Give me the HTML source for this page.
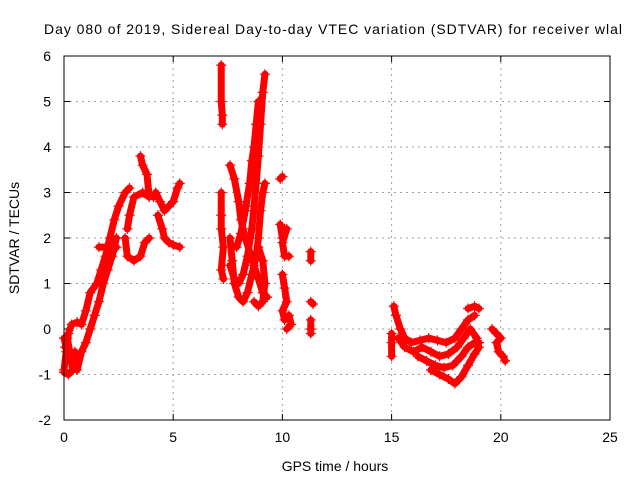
<!DOCTYPE html>
<html><head><meta charset="utf-8"><style>
body{margin:0;background:#fff;width:640px;height:480px;overflow:hidden}
svg text{font-family:"Liberation Sans",sans-serif;font-size:14px;fill:#000}
</style></head><body>
<svg id="chart" width="640" height="480" xmlns="http://www.w3.org/2000/svg">
<text x="44" y="34" font-size="14" textLength="578" lengthAdjust="spacing">Day 080 of 2019, Sidereal Day-to-day VTEC variation (SDTVAR) for receiver wlal</text>
<text x="335" y="471" text-anchor="middle">GPS time / hours</text>
<text transform="translate(19,238) rotate(-90)" text-anchor="middle">SDTVAR / TECUs</text>
<g id="grid"></g><g id="ticks"></g><g id="marks"></g>
<rect x="64" y="56" width="546" height="364" fill="none" stroke="#000" stroke-width="1"/>
</svg>
<script>
const xTicks=[0,5,10,15,20,25];
const yTicks=[-2,-1,0,1,2,3,4,5,6];
const trackRiseUpper=[[0,-0.9],[0.1,-0.5],[0.2,-0.1],[0.35,0.1],[0.6,0.15],[0.8,0.1],[1.0,0.4],[1.2,0.8],[1.5,1.0],[1.7,1.3],[1.9,1.6],[2.1,2.0],[2.3,2.4],[2.5,2.7],[2.8,3.0],[3.0,3.1]];
const trackRiseLower=[[0,-0.2],[0.2,-0.6],[0.5,-0.5],[0.6,-0.9],[0.8,-0.5],[1.0,-0.3],[1.2,0],[1.4,0.3],[1.6,0.6],[1.8,1.0],[2.0,1.3],[2.2,1.6],[2.4,2.0]];
const trackStart=[[0.05,-0.4],[0.15,-0.2],[0.3,-0.6],[0.4,-0.9],[0.2,-1.0],[0,-0.95]];
const trackMorningFlat=[[1.6,1.8],[1.9,1.8],[2.2,1.7],[2.4,1.8]];
const trackPeakLoop=[[2.8,2.0],[2.9,1.6],[3.2,1.5],[3.5,1.6],[3.7,1.9],[3.9,2.0]];
const trackPeakTop=[[2.9,2.2],[3.0,2.5],[3.2,2.9],[3.6,3.0],[3.9,2.9],[3.8,3.4],[3.6,3.6],[3.5,3.8]];
const trackNoonUpper=[[4.1,2.9],[4.2,3.0],[4.4,2.8],[4.6,2.6],[4.8,2.7],[5.0,2.8],[5.2,3.1],[5.3,3.2]];
const trackNoonLower=[[4.3,2.5],[4.5,2.2],[4.6,2.0],[4.8,1.9],[5.0,1.85],[5.3,1.8]];
const trackStrayA=[[7.2,5.8],[7.2,5.0],[7.25,4.7],[7.25,4.5]];
const trackStrayB=[[7.2,3.0],[7.2,2.5],[7.2,2.2],[7.3,1.8],[7.2,1.3],[7.3,1.1]];
const trackEveG=[[7.6,3.6],[7.8,3.3],[8.0,2.8],[8.1,2.4],[8.3,2.0],[8.5,1.7],[8.7,1.4],[8.9,1.1],[9.1,0.8],[9.3,0.7]];
const trackEveH=[[7.6,2.0],[7.7,1.5],[7.8,1.0],[8.0,0.7],[8.2,0.6],[8.4,0.8],[8.6,1.2],[8.8,1.6],[8.9,2.0],[9.0,2.6],[9.1,3.0],[9.2,3.2]];
const trackEveI=[[7.6,1.4],[7.8,1.1],[8.0,1.0],[8.2,1.2],[8.4,1.6],[8.6,2.2],[8.7,2.7],[8.8,3.2],[8.9,3.8],[9.0,4.5],[9.1,5.2],[9.2,5.6]];
const trackEveJ=[[7.9,1.8],[8.1,2.1],[8.3,2.6],[8.5,3.2],[8.6,3.7],[8.7,4.0],[8.8,4.5],[8.9,5.0]];
const trackEveK=[[8.7,0.6],[8.9,0.5],[9.1,0.6],[9.2,1.0],[9.1,1.5],[8.9,1.8]];
const trackTen=[[9.9,3.3],[10.0,3.35]];
const trackTenB=[[9.9,2.3],[10.0,2.0],[10.1,2.2],[10.2,2.2],[10.0,1.9],[10.1,1.6],[10.3,1.6]];
const trackTenC=[[10.0,1.2],[10.1,0.9],[10.2,0.6],[10.0,0.4],[10.1,0.2],[10.3,0.3],[10.4,0.1],[10.2,0.0]];
const trackEleven=[[11.3,1.7],[11.3,1.5]];
const trackElevenB=[[11.3,0.6],[11.4,0.55]];
const trackElevenC=[[11.3,0.2],[11.3,0.0],[11.3,-0.1]];
const trackLateL=[[15.1,0.5],[15.2,0.3],[15.4,0.0],[15.6,-0.2],[15.9,-0.3],[16.3,-0.25],[16.7,-0.2],[17.1,-0.25],[17.5,-0.3],[17.9,-0.2],[18.2,0.0],[18.5,0.2],[18.8,0.3]];
const trackLateM=[[15.3,-0.2],[15.6,-0.4],[16.0,-0.5],[16.4,-0.4],[16.8,-0.5],[17.2,-0.6],[17.6,-0.55],[18.0,-0.4],[18.3,-0.2],[18.6,0.0],[18.9,-0.2]];
const trackLateN=[[16.2,-0.6],[16.6,-0.7],[17.0,-0.8],[17.4,-0.85],[17.8,-0.8],[18.2,-0.6],[18.5,-0.4],[18.8,-0.3],[19.0,-0.3]];
const trackLateO=[[16.8,-0.9],[17.2,-1.0],[17.6,-1.1],[17.9,-1.2],[18.2,-1.05],[18.5,-0.8],[18.8,-0.55],[19.0,-0.4]];
const trackLateP=[[18.5,0.45],[18.8,0.5],[19.0,0.45]];
const trackLateQ=[[15.0,-0.1],[15.0,-0.3],[15.0,-0.6]];
const trackLateR=[[19.6,0.0],[19.8,-0.1],[20.0,-0.2],[19.8,-0.3],[19.9,-0.5],[20.1,-0.6],[20.2,-0.7]];
const tracks=[trackRiseUpper,trackRiseLower,trackStart,trackMorningFlat,trackPeakLoop,trackPeakTop,trackNoonUpper,trackNoonLower,trackStrayA,trackStrayB,trackEveG,trackEveH,trackEveI,trackEveJ,trackEveK,trackTen,trackTenB,trackTenC,trackEleven,trackElevenB,trackElevenC,trackLateL,trackLateM,trackLateN,trackLateO,trackLateP,trackLateQ,trackLateR];
const X0=64,X1=610,Y0=420,Y1=56;
function xs(v){return X0+(v-0)/(25-0)*(X1-X0);}
function ys(v){return Y0-(v+2)/(6+2)*(Y0-Y1);}
const NS="http://www.w3.org/2000/svg";
const grid=document.getElementById('grid'),ticks=document.getElementById('ticks'),marks=document.getElementById('marks');
function mk(t,a,p){const e=document.createElementNS(NS,t);for(const k in a)e.setAttribute(k,a[k]);p.appendChild(e);return e;}
xTicks.forEach(t=>{const x=xs(t);
 if(t>0&&t<25){const g=mk('line',{x1:x,x2:x,y1:Y1,y2:Y0,stroke:'#a0a0a0','stroke-dasharray':'2,4'},grid);
 
 }
 const l=mk('text',{x:x,y:442,'text-anchor':'middle'},ticks);l.textContent=t;
 
 
 mk('line',{x1:x,x2:x,y1:Y0,y2:Y0-6,stroke:'#000'},ticks);mk('line',{x1:x,x2:x,y1:Y1,y2:Y1+6,stroke:'#000'},ticks);});
yTicks.forEach(t=>{const y=ys(t);
 if(t>-2&&t<6){const g=mk('line',{x1:X0,x2:X1,y1:y,y2:y,stroke:'#a0a0a0','stroke-dasharray':'2,4'},grid);
 
 }
 const l=mk('text',{x:51,y:y+5,'text-anchor':'end'},ticks);l.textContent=t;
 
 
 mk('line',{x1:X0,x2:X0+6,y1:y,y2:y,stroke:'#000'},ticks);mk('line',{x1:X1,x2:X1-6,y1:y,y2:y,stroke:'#000'},ticks);});
tracks.forEach(tr=>{
 const pl=mk('polyline',{points:tr.map(p=>xs(p[0])+','+ys(p[1])).join(' '),fill:'none',stroke:'#f00','stroke-width':7,'stroke-linejoin':'round','stroke-linecap':'round'},marks);
 
 
 tr.forEach(p=>{const x=xs(p[0]),y=ys(p[1]);
  const m=mk('path',{d:`M${x-5},${y}H${x+5}M${x},${y-5}V${y+5}`,stroke:'#f00','stroke-width':1.2},marks);
  
  });
});
</script>
</body></html>
